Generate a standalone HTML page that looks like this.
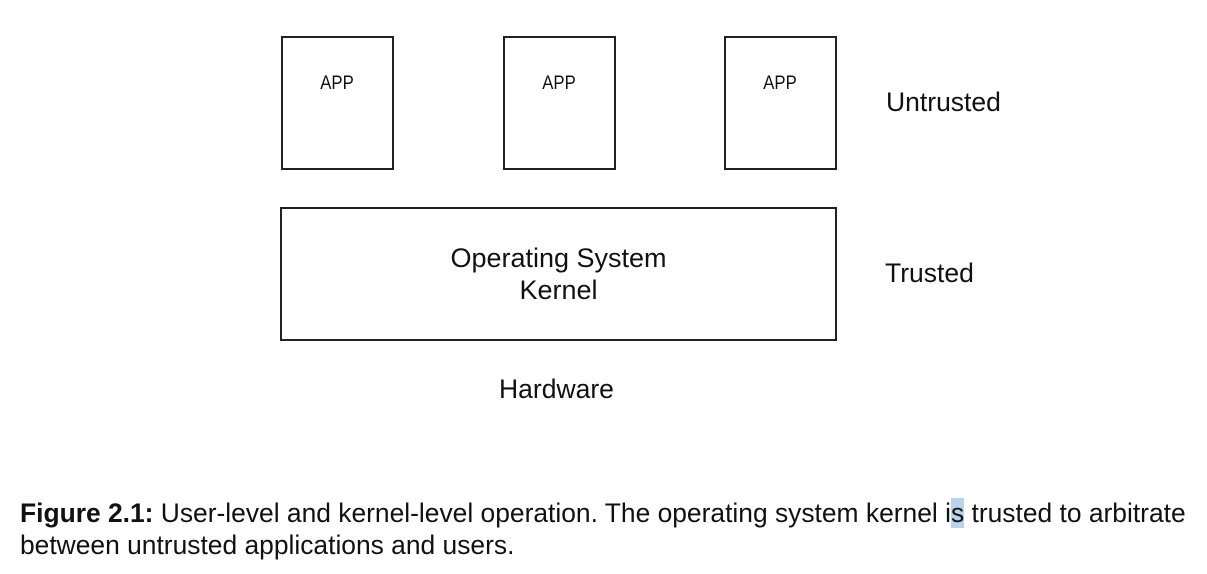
<!DOCTYPE html>
<html><head><style>
body{margin:0;width:1207px;height:574px;background:#fff;position:relative;font-family:"Liberation Sans",sans-serif;color:#111;overflow:hidden}
.b{position:absolute;border:2px solid #222;box-sizing:border-box}
.t{position:absolute;white-space:nowrap}
.app{font-size:19px;text-align:center;width:112px;transform:scaleX(0.88)}
</style></head><body>
<div class="b" style="left:281px;top:36px;width:113px;height:134px"></div>
<div class="b" style="left:503px;top:36px;width:113px;height:134px"></div>
<div class="b" style="left:724px;top:36px;width:113px;height:134px"></div>
<div class="t app" style="left:281px;top:73px">APP</div>
<div class="t app" style="left:503px;top:73px">APP</div>
<div class="t app" style="left:724px;top:73px">APP</div>
<div class="t" style="left:886px;top:87px;font-size:26.5px">Untrusted</div>
<div class="b" style="left:280px;top:207px;width:557px;height:134px"></div>
<div class="t" style="left:280px;top:242px;width:557px;text-align:center;font-size:27px;line-height:32px;white-space:normal">Operating System<br>Kernel</div>
<div class="t" style="left:885px;top:258px;font-size:26.5px">Trusted</div>
<div class="t" style="left:499px;top:374px;font-size:26.5px">Hardware</div>
<div class="t" style="left:20px;top:497px;font-size:26.4px;line-height:32px"><b>Figure 2.1:</b> User-level and kernel-level operation. The operating system kernel i<span style="background:#b9d3ea">s</span> trusted to arbitrate<br>between untrusted applications and users.</div>
</body></html>
